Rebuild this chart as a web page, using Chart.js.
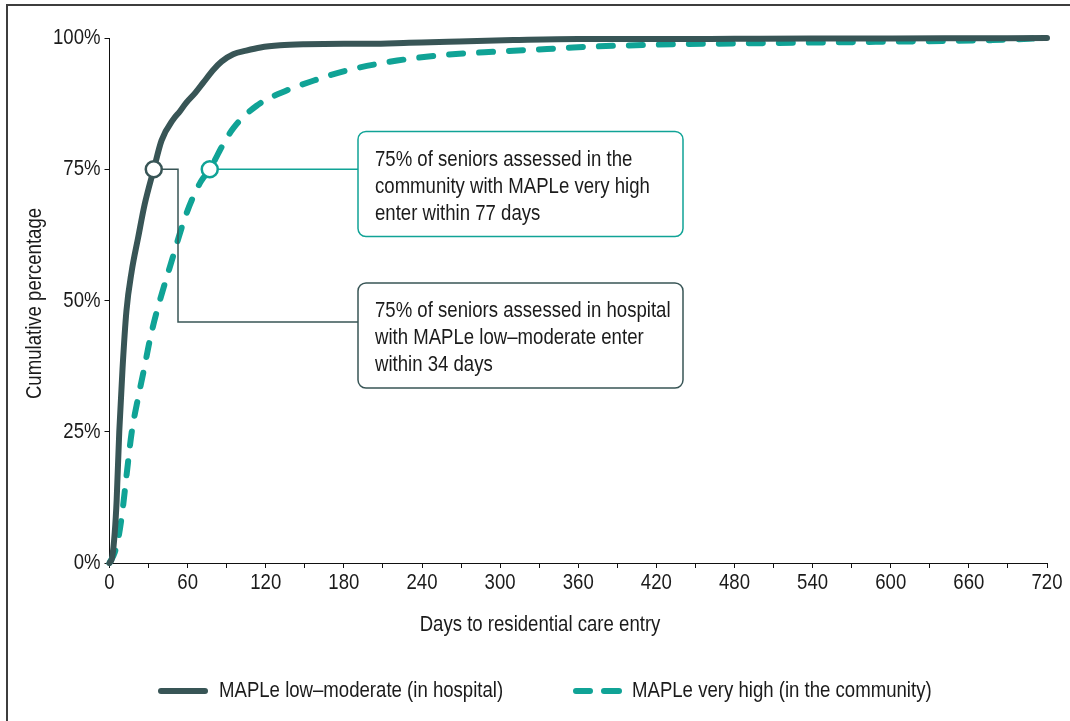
<!DOCTYPE html>
<html>
<head>
<meta charset="utf-8">
<script src="https://cdn.jsdelivr.net/npm/chart.js@4.4.1/dist/chart.umd.min.js"></script>
<style>
html, body { margin: 0; padding: 0; background: #fff; }
#wrap { position: relative; width: 1070px; height: 721px; overflow: hidden; }
#frame { position: absolute; left: 6px; top: 4px; right: -4px; bottom: -4px; border-top: 2px solid #3d3d3d; border-left: 2px solid #3d3d3d; }
canvas { position: absolute; left: 0; top: 0; }
</style>
</head>
<body>
<div id="wrap"><div id="frame"></div><canvas id="chart" width="1070" height="721"></canvas></div>
<script>
// cumulative % entering residential care, by days since assessment
const hospitalDays = [0, 2, 4, 5.5, 7.5, 10, 13, 17, 22, 27, 34, 40, 49, 54, 59, 66, 72, 80, 86, 95, 105, 116, 131, 150, 180, 200, 230, 260, 310, 360, 420, 480, 540, 600, 660, 720];
const hospitalPct  = [0, 1, 5.7, 12, 25, 37, 48, 55.5, 62, 68.3, 75, 80.5, 84.5, 86, 87.7, 89.6, 91.5, 94, 95.5, 96.9, 97.6, 98.2, 98.6, 98.8, 98.9, 98.9, 99.1, 99.3, 99.6, 99.8, 99.8, 99.85, 99.9, 99.9, 99.95, 100];

const communityDays = [0, 4, 7, 10, 13, 17, 22, 27, 31, 36, 46.5, 59, 70, 77, 87, 95, 113, 136, 157, 182, 221, 259, 297, 336, 356, 415, 530, 600, 678, 720];
const communityPct  = [0, 2, 5, 10, 16.5, 24.8, 31.5, 37.5, 42.5, 47.6, 56.5, 66.5, 72.6, 75, 79.6, 82.8, 87.1, 90, 91.9, 93.8, 95.7, 96.8, 97.4, 97.9, 98.2, 98.7, 99.1, 99.3, 99.6, 100];

const seriesLabels = ['MAPLe low\u2013moderate (in hospital)', 'MAPLe very high (in the community)'];
const xTitle = 'Days to residential care entry';
const yTitle = 'Cumulative percentage';
const HOSPITAL_MEDIAN_DAYS = 34;
const COMMUNITY_MEDIAN_DAYS = 77;
const communityNote = ['75% of seniors assessed in the', 'community with MAPLe very high', 'enter within 77 days'];
const hospitalNote = ['75% of seniors assessed in hospital', 'with MAPLe low\u2013moderate enter', 'within 34 days'];

const DARK = '#385556';
const TEAL = '#10a396';
const TEXT = '#1b1b1b';
const FONT = "'Liberation Sans', Arial, sans-serif";
const NARROW = 0.845;   // squeeze to look like Arial Narrow

// text drawn condensed, since no narrow face is installed
function narrowText(ctx, text, x, y, align, baseline, rotate) {
    ctx.save();
    ctx.font = '22px ' + FONT;
    ctx.fillStyle = TEXT;
    ctx.textAlign = align;
    ctx.textBaseline = baseline;
    ctx.translate(x, y);
    if (rotate) ctx.rotate(rotate);
    ctx.scale(NARROW, 1);
    ctx.fillText(text, 0, 0);
    ctx.restore();
}

function toPoints(days, pct) {
    return days.map((d, i) => ({ x: d, y: pct[i] }));
}

function roundRect(ctx, x, y, w, h, r) {
    ctx.beginPath();
    ctx.moveTo(x + r, y);
    ctx.lineTo(x + w - r, y);
    ctx.arcTo(x + w, y, x + w, y + r, r);
    ctx.lineTo(x + w, y + h - r);
    ctx.arcTo(x + w, y + h, x + w - r, y + h, r);
    ctx.lineTo(x + r, y + h);
    ctx.arcTo(x, y + h, x, y + h - r, r);
    ctx.lineTo(x, y + r);
    ctx.arcTo(x, y, x + r, y, r);
    ctx.closePath();
}

function drawNote(ctx, box, color, lines) {
    roundRect(ctx, box.x, box.y, box.w, box.h, 8);
    ctx.fillStyle = '#fff';
    ctx.fill();
    ctx.lineWidth = 1.5;
    ctx.strokeStyle = color;
    ctx.stroke();
    lines.forEach((t, i) => narrowText(ctx, t, box.x + 17, box.y + 34 + i * 27, 'left', 'alphabetic'));
}

const notesPlugin = {
    id: 'medianNotes',
    afterDatasetsDraw(chart) {
        const { ctx, scales: { x, y } } = chart;
        const yMid = y.getPixelForValue(75);
        const hx = x.getPixelForValue(HOSPITAL_MEDIAN_DAYS);
        const cx = x.getPixelForValue(COMMUNITY_MEDIAN_DAYS);
        const commBox = { x: 358, y: 131.5, w: 325, h: 105 };
        const hospBox = { x: 358, y: 283, w: 325, h: 105 };
        ctx.save();
        ctx.lineWidth = 1.5;
        ctx.strokeStyle = TEAL;
        ctx.beginPath();
        ctx.moveTo(cx, yMid);
        ctx.lineTo(commBox.x, yMid);
        ctx.stroke();
        ctx.strokeStyle = DARK;
        ctx.beginPath();
        ctx.moveTo(hx, yMid);
        ctx.lineTo(178, yMid);
        ctx.lineTo(178, 322);
        ctx.lineTo(hospBox.x, 322);
        ctx.stroke();

        drawNote(ctx, commBox, TEAL, communityNote);
        drawNote(ctx, hospBox, DARK, hospitalNote);

        [[hx, DARK], [cx, TEAL]].forEach(([px, col]) => {
            ctx.beginPath();
            ctx.arc(px, yMid, 8, 0, Math.PI * 2);
            ctx.fillStyle = '#fff';
            ctx.fill();
            ctx.lineWidth = 2.5;
            ctx.strokeStyle = col;
            ctx.stroke();
        });
        ctx.restore();
    },
    afterDraw(chart) {
        const { ctx, scales: { x, y } } = chart;

        // tick labels, placed from the scales' own ticks
        x.ticks.forEach(t => {
            if (t.value % 60 !== 0) return;
            narrowText(ctx, String(t.value), x.getPixelForValue(t.value), y.bottom + 20, 'center', 'middle');
        });
        y.ticks.forEach(t => {
            narrowText(ctx, t.value + '%', x.left - 9, y.getPixelForValue(t.value), 'right', 'middle');
        });

        // axis titles
        narrowText(ctx, xTitle, 540, 625, 'center', 'middle');
        narrowText(ctx, yTitle, 35, (y.top + y.bottom) / 2 + 3, 'center', 'middle', -Math.PI / 2);

        // legend drawn by hand so the dashed sample looks like the chart
        const ly = 691;
        ctx.save();
        ctx.lineWidth = 6;
        ctx.lineCap = 'round';
        ctx.strokeStyle = DARK;
        ctx.beginPath();
        ctx.moveTo(161, ly);
        ctx.lineTo(205, ly);
        ctx.stroke();
        ctx.strokeStyle = TEAL;
        ctx.beginPath();
        ctx.moveTo(576, ly);
        ctx.lineTo(590, ly);
        ctx.moveTo(604, ly);
        ctx.lineTo(619, ly);
        ctx.stroke();
        ctx.restore();
        narrowText(ctx, seriesLabels[0], 219, ly, 'left', 'middle');
        narrowText(ctx, seriesLabels[1], 632, ly, 'left', 'middle');
    }
};

new Chart(document.getElementById('chart'), {
    type: 'line',
    data: {
        datasets: [{
            label: seriesLabels[0],
            data: toPoints(hospitalDays, hospitalPct),
            borderColor: DARK,
            borderWidth: 6,
            borderCapStyle: 'round',
            borderJoinStyle: 'round',
            pointRadius: 0,
            cubicInterpolationMode: 'monotone',
            clip: 8
        }, {
            label: seriesLabels[1],
            data: toPoints(communityDays, communityPct),
            borderColor: TEAL,
            borderWidth: 6,
            borderDash: [14, 16],
            borderCapStyle: 'round',
            pointRadius: 0,
            cubicInterpolationMode: 'monotone',
            clip: 8
        }]
    },
    options: {
        responsive: false,
        animation: false,
        events: [],
        layout: { padding: { left: 0, top: 38, right: 23, bottom: 83 } },
        plugins: { legend: { display: false }, tooltip: { enabled: false } },
        scales: {
            x: {
                type: 'linear',
                min: 0,
                max: 720,
                afterFit(scale) { scale.height = 75; },
                ticks: { display: false, stepSize: 30, autoSkip: false, maxRotation: 0 },
                grid: { drawOnChartArea: false, tickLength: 5, color: '#111' },
                border: { color: '#111', width: 1 }
            },
            y: {
                min: 0,
                max: 100,
                afterFit(scale) { scale.width = 109.5; },
                ticks: { display: false, stepSize: 25 },
                grid: { drawOnChartArea: false, tickLength: 5, color: '#111' },
                border: { color: '#111', width: 1 }
            }
        }
    },
    plugins: [notesPlugin]
});
</script>
</body>
</html>
